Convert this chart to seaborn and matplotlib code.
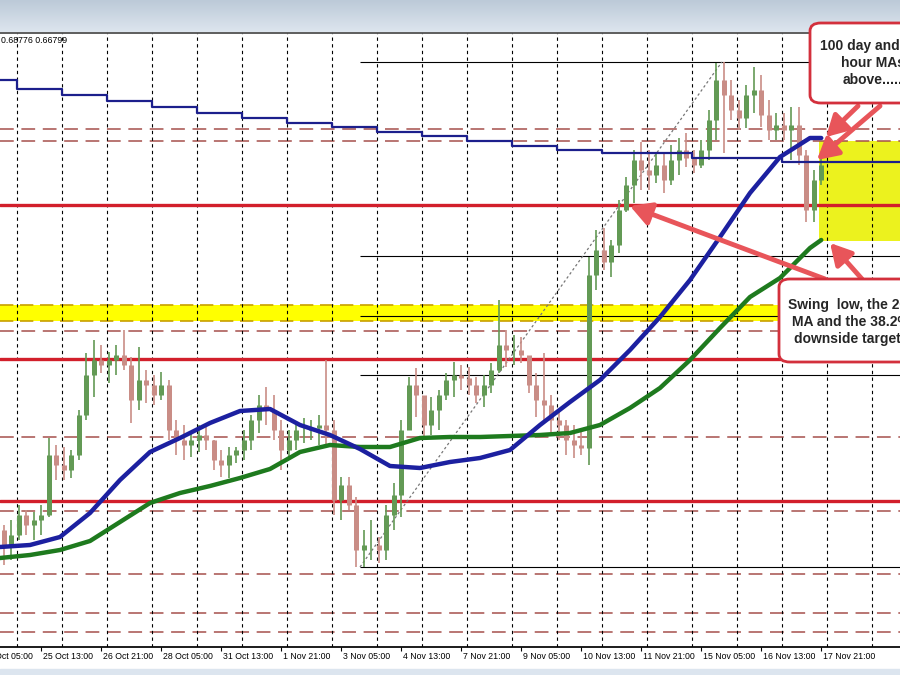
import seaborn as sns
import matplotlib.pyplot as plt
import matplotlib.transforms as mtransforms
from matplotlib.patches import FancyBboxPatch, Rectangle
import numpy as np

sns.set_theme(style="white")
plt.rcParams['font.family'] = ['Liberation Sans', 'DejaVu Sans']

# 4-hour bars (hourly chart squeezed), AUDUSD
bar_high = [0.6335, 0.6340, 0.6355, 0.6350, 0.6348, 0.6355, 0.6422, 0.6415, 0.6413, 0.6410,
            0.6450, 0.6507, 0.6520, 0.6515, 0.6508, 0.6515, 0.6530, 0.6503, 0.6513, 0.6490,
            0.6485, 0.6488, 0.6480, 0.6440, 0.6435, 0.6428, 0.6435, 0.6437, 0.6420, 0.6410,
            0.6413, 0.6413, 0.6430, 0.6445, 0.6465, 0.6473, 0.6465, 0.6440, 0.6430, 0.6437,
            0.6442, 0.6440, 0.6445, 0.6500, 0.6440, 0.6383, 0.6383, 0.6363, 0.6330, 0.6340,
            0.6323, 0.6355, 0.6377, 0.6440, 0.6483, 0.6492, 0.6460, 0.6463, 0.6470, 0.6487,
            0.6498, 0.6495, 0.6493, 0.6483, 0.6485, 0.6497, 0.6560, 0.6530, 0.6525, 0.6523,
            0.6503, 0.6487, 0.6507, 0.6465, 0.6450, 0.6440, 0.6435, 0.6430, 0.6603, 0.6630,
            0.6632, 0.6620, 0.6660, 0.6683, 0.6710, 0.6718, 0.6710, 0.6707, 0.6707, 0.6715,
            0.6722, 0.6727, 0.6710, 0.6720, 0.6750, 0.6797, 0.6798, 0.6780, 0.6760, 0.6775,
            0.6793, 0.6785, 0.6760, 0.6747, 0.6747, 0.6753, 0.6753, 0.6710, 0.6690, 0.6705]
bar_low = [0.6295, 0.6300, 0.6320, 0.6325, 0.6320, 0.6325, 0.6343, 0.6380, 0.6380, 0.6382,
           0.6400, 0.6440, 0.6463, 0.6487, 0.6477, 0.6485, 0.6490, 0.6437, 0.6450, 0.6457,
           0.6455, 0.6460, 0.6420, 0.6405, 0.6400, 0.6403, 0.6408, 0.6410, 0.6390, 0.6383,
           0.6382, 0.6397, 0.6400, 0.6410, 0.6427, 0.6435, 0.6420, 0.6390, 0.6400, 0.6410,
           0.6417, 0.6420, 0.6415, 0.6415, 0.6345, 0.6340, 0.6350, 0.6293, 0.6293, 0.6300,
           0.6297, 0.6300, 0.6330, 0.6343, 0.6430, 0.6443, 0.6420, 0.6425, 0.6430, 0.6460,
           0.6463, 0.6470, 0.6465, 0.6457, 0.6453, 0.6467, 0.6487, 0.6493, 0.6495, 0.6497,
           0.6467, 0.6443, 0.6440, 0.6427, 0.6420, 0.6405, 0.6402, 0.6405, 0.6395, 0.6570,
           0.6590, 0.6583, 0.6607, 0.6648, 0.6657, 0.6670, 0.6670, 0.6677, 0.6667, 0.6675,
           0.6685, 0.6693, 0.6687, 0.6692, 0.6700, 0.6720, 0.6707, 0.6740, 0.6730, 0.6732,
           0.6747, 0.6733, 0.6720, 0.6720, 0.6720, 0.6700, 0.6695, 0.6638, 0.6638, 0.6675]
bar_close = [0.6315, 0.6325, 0.6345, 0.6335, 0.6340, 0.6345, 0.6405, 0.6395, 0.6390, 0.6405,
             0.6445, 0.6485, 0.6500, 0.6495, 0.6500, 0.6505, 0.6495, 0.6460, 0.6480, 0.6475,
             0.6465, 0.6475, 0.6430, 0.6420, 0.6415, 0.6420, 0.6425, 0.6420, 0.6400, 0.6395,
             0.6405, 0.6410, 0.6420, 0.6440, 0.6455, 0.6450, 0.6430, 0.6410, 0.6420, 0.6430,
             0.6430, 0.6432, 0.6435, 0.6430, 0.6360, 0.6375, 0.6355, 0.6310, 0.6315, 0.6315,
             0.6310, 0.6345, 0.6365, 0.6430, 0.6475, 0.6465, 0.6435, 0.6450, 0.6465, 0.6480,
             0.6485, 0.6482, 0.6475, 0.6465, 0.6475, 0.6490, 0.6515, 0.6510, 0.6510, 0.6505,
             0.6475, 0.6460, 0.6455, 0.6440, 0.6435, 0.6420, 0.6415, 0.6412, 0.6585, 0.6610,
             0.6598, 0.6615, 0.6650, 0.6675, 0.6700, 0.6690, 0.6685, 0.6695, 0.6680, 0.6700,
             0.6710, 0.6702, 0.6695, 0.6710, 0.6740, 0.6780, 0.6765, 0.6750, 0.6742, 0.6765,
             0.6770, 0.6745, 0.6730, 0.6735, 0.6730, 0.6735, 0.6705, 0.6650, 0.6680, 0.6695]
first_open = 0.6330

# moving averages, sampled every 16 hours
ma_hours = list(range(0, 433, 16)) + [438]
ma100h = [0.6313, 0.6315, 0.6323, 0.6347, 0.6380, 0.6408, 0.6422, 0.6437, 0.6449, 0.6451,
          0.6435, 0.6425, 0.6411, 0.6394, 0.6392, 0.6398, 0.6402, 0.6410, 0.6435, 0.6458,
          0.6480, 0.6510, 0.6543, 0.6580, 0.6623, 0.6667, 0.6703, 0.6722, 0.6722]
ma200h = [0.6302, 0.6305, 0.6310, 0.6319, 0.6338, 0.6357, 0.6367, 0.6374, 0.6382, 0.6391,
          0.6408, 0.6415, 0.6413, 0.6413, 0.6422, 0.6423, 0.6423, 0.6424, 0.6425, 0.6427,
          0.6435, 0.6452, 0.6472, 0.6500, 0.6532, 0.6563, 0.6582, 0.6612, 0.6620]

# 100 day MA, one value per day
day_hours = [0] + list(range(9, 442, 24)) + [480]
ma100d = [0.6780, 0.6771, 0.6765, 0.6759, 0.6753, 0.6747, 0.6742, 0.6737, 0.6733, 0.6728,
          0.6724, 0.6719, 0.6714, 0.6710, 0.6707, 0.6707, 0.6702, 0.6702, 0.6698, 0.6698]

# drawn levels
red_levels = [0.6655, 0.6501, 0.6359]
dashed_levels = [0.6731, 0.6719, 0.6529, 0.6423, 0.6349, 0.6286, 0.6247, 0.6228]
yellow_band = [0.6539, 0.6555]
fib_levels = [0.6798, 0.6604, 0.6544, 0.6485, 0.6293]
fib_hours = [192, 385]
target_hours = [437, 480]
target_zone = [0.6619, 0.6719]

tick_hours = [-10, 22, 54, 86, 118, 150, 182, 214, 246, 278, 310, 342, 374, 406, 438]
tick_labels = ['24 Oct 05:00', '25 Oct 13:00', '26 Oct 21:00', '28 Oct 05:00', '31 Oct 13:00',
               '1 Nov 21:00', '3 Nov 05:00', '4 Nov 13:00', '7 Nov 21:00', '9 Nov 05:00',
               '10 Nov 13:00', '11 Nov 21:00', '15 Nov 05:00', '16 Nov 13:00', '17 Nov 21:00']
grid_hours = list(range(9, 470, 24))

fig = plt.figure(figsize=(9, 6.75), dpi=100)
ax = fig.add_axes([0, 1 - 647 / 675, 1, 614 / 675])
ax.set_xlim(0, 480)
ax.set_ylim(0.6213, 0.6827)
ax.set_facecolor('white')

# yellow zones
ax.axhspan(yellow_band[0], yellow_band[1], color='#ffff00', zorder=1, lw=0)
for lv in yellow_band:
    ax.axhline(lv, color='#c8a000', lw=1.2, ls=(0, (8, 4)), zorder=2)
ax.add_patch(Rectangle((target_hours[0], target_zone[0]), target_hours[1] - target_hours[0],
                       target_zone[1] - target_zone[0], color='#ecf21e', lw=0, zorder=1))

# horizontal levels
for lv in dashed_levels:
    ax.axhline(lv, color='#a5504c', lw=1.1, ls=(0, (9, 5)), zorder=2)
for lv in red_levels:
    ax.axhline(lv, color='#d21f2b', lw=2.4, zorder=3)
for lv in fib_levels:
    ax.hlines(lv, fib_hours[0], 480, color='black', lw=0.8, zorder=3)
ax.plot(fib_hours, [fib_levels[-1], fib_levels[0]], color='#777777', lw=0.9, ls=(0, (2, 2)), zorder=3)

# vertical grid
for h in grid_hours:
    ax.axvline(h, color='black', lw=0.8, ls=(0, (3, 3)), zorder=2)

# bars
bar_open = [first_open] + bar_close[:-1]
bar_hours = np.arange(len(bar_close)) * 4 + 2
cols = ['#639a55' if c >= o else '#c98d86' for o, c in zip(bar_open, bar_close)]
ax.vlines(bar_hours, bar_low, bar_high, colors=cols, lw=1.2, zorder=4)
ax.vlines(bar_hours, np.minimum(bar_open, bar_close), np.maximum(bar_open, bar_close),
          colors=cols, lw=3.6, zorder=4)

# moving averages
sns.lineplot(x=day_hours, y=ma100d + [ma100d[-1]], drawstyle='steps-post', color='#1c1f8c',
             lw=1.6, ax=ax, zorder=5)
sns.lineplot(x=ma_hours, y=ma200h, color='#1e7a1e', lw=3.2, ax=ax, zorder=5)
sns.lineplot(x=ma_hours, y=ma100h, color='#1c20a0', lw=3.2, ax=ax, zorder=6)

# axes cosmetics
for s in ['left', 'right']:
    ax.spines[s].set_visible(False)
ax.spines['top'].set_color('#4a4a4a')
ax.spines['bottom'].set_color('black')
ax.set_yticks([])
ax.set_xticks([h for h in tick_hours if h >= 0])
ax.set_xticklabels([])
ax.tick_params(axis='x', direction='out', length=3, width=0.8, color='black', bottom=True)
ax.set_xlabel('')
ax.set_ylabel('')
trans = mtransforms.blended_transform_factory(ax.transData, ax.transAxes)
for h, lab in zip(tick_hours, tick_labels):
    ax.text(h + 1.0, -0.0147, lab, transform=trans, ha='left', va='center', fontsize=6.3,
            color='black', clip_on=False)
ax.text(0.001, 0.987, '0.68776 0.66799', transform=ax.transAxes, ha='left', va='center',
        fontsize=6.3, color='black')

# window chrome
top = fig.add_axes([0, 1 - 32 / 675, 1, 32 / 675])
grad = np.linspace(0, 1, 32).reshape(-1, 1)
top.imshow(grad, aspect='auto', cmap=sns.blend_palette(['#bccad8', '#dde5ee'], as_cmap=True),
           extent=[0, 1, 0, 1])
top.axis('off')
fig.patches.append(Rectangle((0, 0), 1, 6 / 675, transform=fig.transFigure, color='#dce5ef', zorder=0))


def fpx(x, y):
    return (x / 900, 1 - y / 675)


# annotation boxes
box_kw = dict(boxstyle='round,pad=0,rounding_size=0.012', transform=fig.transFigure,
              facecolor='white', edgecolor='#d3303c', lw=2, zorder=20)
fig.patches.append(FancyBboxPatch(fpx(810, 103), 0.2, 80 / 675, **box_kw))
fig.patches.append(FancyBboxPatch(fpx(779, 362), 0.25, 83 / 675, **box_kw))
fig.text(*fpx(873, 63), '100 day and 100\nhour MAs\nabove.....', ha='center', va='center',
         fontsize=10, fontweight='bold', linespacing=1.25, zorder=21)
fig.text(*fpx(851, 322), 'Swing  low, the 200\nMA and the 38.2%\ndownside targets', ha='center',
         va='center', fontsize=10, fontweight='bold', linespacing=1.25, zorder=21)

# arrows
arrow_kw = dict(arrowstyle='-|>,head_length=0.9,head_width=0.5', color='#e8555a', lw=3.5,
                shrinkA=0, shrinkB=0, mutation_scale=14)
arrows = [((440.5, 0.6723), (858, 106)), ((435.7, 0.6700), (880, 106)),
          ((336.0, 0.6654), (825, 279)), ((442.7, 0.6617), (862, 279))]
for head, tail in arrows:
    ax.annotate('', xy=head, xycoords='data', xytext=fpx(*tail), textcoords='figure fraction',
                arrowprops=arrow_kw, zorder=15, annotation_clip=False)

fig.savefig('out.png', dpi=100)
